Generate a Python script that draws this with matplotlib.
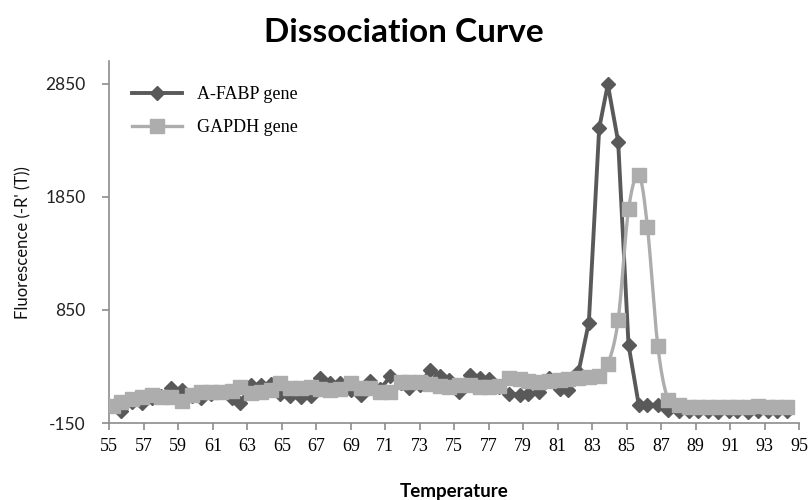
import matplotlib.pyplot as plt
import numpy as np

plt.rcParams['axes.unicode_minus'] = False

# temperatures (deg C)
temp = [55.2, 55.7, 56.3, 56.9, 57.5, 58.0, 58.6, 59.2, 59.8, 60.3,
        60.9, 61.5, 62.1, 62.6, 63.2, 63.8, 64.4, 64.9, 65.5, 66.1,
        66.7, 67.2, 67.8, 68.4, 69.0, 69.6, 70.1, 70.7, 71.3, 71.9,
        72.4, 73.0, 73.6, 74.2, 74.7, 75.3, 75.9, 76.5, 77.0, 77.6,
        78.2, 78.8, 79.3, 79.9, 80.5, 81.1, 81.6, 82.2, 82.8, 83.4,
        83.9, 84.5, 85.1, 85.7, 86.2, 86.8, 87.4, 88.0, 88.6, 89.1,
        89.7, 90.3, 90.9, 91.4, 92.0, 92.6, 93.2, 93.7, 94.3]

fabp = [0, -40, 40, 25, 70, 90, 157, 140, 90, 70,
        110, 120, 70, 30, 185, 190, 195, 110, 85, 80,
        90, 250, 200, 200, 140, 96, 218, 150, 262, 200,
        157, 190, 320, 270, 230, 120, 275, 245, 240, 170,
        110, 100, 110, 125, 250, 150, 140, 300, 739, 2458,
        2845, 2339, 543, 5, 5, 5, -35, -40, -40, -45,
        -45, -50, -45, -45, -50, -45, -45, -45, -45]

gapdh = [2, 37, 61, 81, 96, 78, 81, 46, 96, 125,
         125, 125, 133, 168, 113, 125, 140, 201, 157, 157,
         168, 148, 140, 148, 201, 157, 157, 122, 122, 210,
         210, 210, 192, 175, 166, 183, 183, 166, 166, 175,
         245, 236, 218, 210, 218, 227, 236, 245, 253, 262,
         368, 762, 1739, 2040, 1581, 528, 52, 8, -8, -12,
         -12, -10, -8, -8, -6, -4, -6, -8, -8]

yticks = [-150, 850, 1850, 2850]
xticks = list(range(55, 96, 2))

dark = '#595959'
light = '#adadad'


def smooth(x, y, n=12):
    # catmull-rom path through the points, like Excel's smoothed line
    x = np.asarray(x, float)
    y = np.asarray(y, float)
    px = np.concatenate([[x[0]], x, [x[-1]]])
    py = np.concatenate([[y[0]], y, [y[-1]]])
    t = np.linspace(0, 1, n, endpoint=False)
    xs, ys = [], []
    for i in range(1, len(px) - 2):
        for p, out in ((px, xs), (py, ys)):
            p0, p1, p2, p3 = p[i - 1], p[i], p[i + 1], p[i + 2]
            out.extend(0.5 * (2 * p1 + (-p0 + p2) * t
                              + (2 * p0 - 5 * p1 + 4 * p2 - p3) * t ** 2
                              + (-p0 + 3 * p1 - 3 * p2 + p3) * t ** 3))
    xs.append(x[-1])
    ys.append(y[-1])
    return xs, ys


fig = plt.figure(figsize=(8.08, 5.0), dpi=100)
ax = fig.add_axes([0.1353, 0.154, 0.8539, 0.7234])

ax.plot(temp, fabp, color=dark, lw=2.8, marker='D', ms=7.5,
        mec=dark, mfc=dark, label='A-FABP gene', zorder=3)
sx, sy = smooth(temp, gapdh)
ax.plot(sx, sy, color=light, lw=2.4, zorder=4)
ax.plot(temp, gapdh, ls='none', marker='s', ms=9.5, mec=light, mfc=light,
        zorder=4)
ax.plot([], [], color=light, lw=2.4, marker='s', ms=9.5, label='GAPDH gene')

ax.set_xlim(55, 95)
ax.set_ylim(-150, 3050)
ax.set_xticks(xticks)
ax.set_yticks(yticks)

for s in ['top', 'right']:
    ax.spines[s].set_visible(False)
for s in ['left', 'bottom']:
    ax.spines[s].set_color('#8c8c8c')
    ax.spines[s].set_linewidth(1.2)
ax.tick_params(axis='both', direction='out', length=5, color='#8c8c8c',
               width=1.2)
ax.tick_params(axis='x', labelsize=13, pad=6)
ax.tick_params(axis='y', labelsize=12.5, pad=12)
for lb in ax.get_xticklabels():
    lb.set_family('Liberation Serif')
for lb in ax.get_yticklabels():
    lb.set_family('Lato')
    lb.set_color('#222222')

ax.set_ylabel("Fluorescence (-R' (T))", family='Lato', fontsize=12,
              color='#111111', labelpad=10)
ax.set_xlabel('Temperature', family='Lato', fontsize=13.5,
              fontweight='bold', labelpad=20)
fig.suptitle('Dissociation Curve', family='Lato', fontsize=24,
             fontweight='bold', y=0.963)

ax.legend(loc='upper left', bbox_to_anchor=(0.163, 0.828),
          bbox_transform=fig.transFigure, frameon=False,
          prop={'family': 'Liberation Serif', 'size': 13},
          handlelength=2.8, handletextpad=0.8, labelspacing=0.9,
          borderpad=0, borderaxespad=0)

fig.savefig('out.png', dpi=100)
